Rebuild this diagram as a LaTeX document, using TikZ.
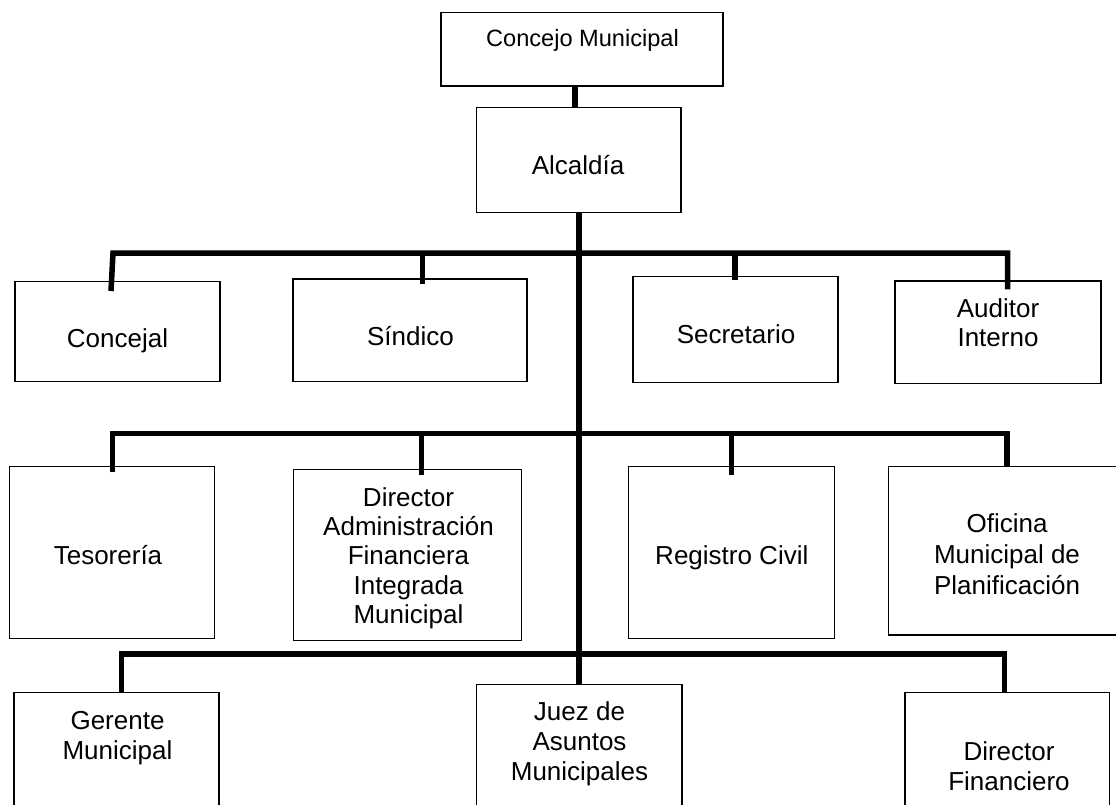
\documentclass[tikz,border=0pt]{standalone}
\usepackage{fontspec}
\setmainfont{Liberation Sans}
\begin{document}
\begin{tikzpicture}[x=1pt,y=-1pt,
  box/.style={draw=black, line width=1.3pt, inner sep=0pt, outer sep=0pt},
  conn/.style={draw=black, line width=5.5pt, line cap=butt, line join=miter},
  lbl/.style={anchor=north, inner sep=0pt, align=center, font=\fontsize{26}{#1}\selectfont},
  lbl/.default=29.7]
\useasboundingbox (0,0) rectangle (1116,804);
\fill[white] (0,0) rectangle (1116,804);
\clip (0,0) rectangle (1116,804);

% boxes
\node[box, minimum width=282pt,   minimum height=73.5pt]  (concejo)    at (582,49.25) {};
\node[box, minimum width=204.3pt, minimum height=105pt]   (alcaldia)   at (578.85,160.2) {};
\node[box, minimum width=205pt,   minimum height=100pt]   (concejal)   at (117.5,331.7) {};
\node[box, minimum width=234pt,   minimum height=102.7pt] (sindico)    at (410,330.35) {};
\node[box, minimum width=205pt,   minimum height=106pt]   (secretario) at (735.5,329.3) {};
\node[box, minimum width=206pt,   minimum height=102.3pt] (auditor)    at (998,332.15) {};
\node[box, minimum width=205pt,   minimum height=171.6pt] (tesoreria)  at (111.8,552.5) {};
\node[box, minimum width=228.1pt, minimum height=171.4pt] (director)   at (407.35,555) {};
\node[box, minimum width=205.6pt, minimum height=171.6pt] (registro)   at (731.5,552.5) {};
\node[box, minimum width=241.3pt, minimum height=168.3pt] (oficina)    at (1009.35,550.85) {};
\node[box, minimum width=205pt,   minimum height=137.7pt] (gerente)    at (116.5,761.15) {};
\node[box, minimum width=205.3pt, minimum height=145.7pt] (juez)       at (579.35,757.15) {};
\node[box, minimum width=204.5pt, minimum height=137.7pt] (financiero) at (1007.25,761.15) {};

% labels
\node[lbl, font=\fontsize{23.6}{28}\selectfont] (tconcejo) at (582.5,24.7) {\rule{0pt}{22pt}Concejo Municipal};
\node[lbl] (talcaldia)   at (578,152)     {\rule{0pt}{22pt}Alcaldía};
\node[lbl] (tconcejal)   at (117.5,325)   {\rule{0pt}{22pt}Concejal};
\node[lbl] (tsindico)    at (410.5,323.5) {\rule{0pt}{22pt}Síndico};
\node[lbl] (tsecretario) at (736,321.3)   {\rule{0pt}{22pt}Secretario};
\node[lbl=29.4] (tauditor) at (998,295.3) {\rule{0pt}{22pt}Auditor\\Interno};
\node[lbl] (ttesoreria)  at (108,542)     {\rule{0pt}{22pt}Tesorería};
\node[lbl=29.3] (tdirector) at (408.5,484) {\rule{0pt}{22pt}Director\\Administración\\Financiera\\Integrada\\Municipal};
\node[lbl] (tregistro)   at (731.8,542)   {\rule{0pt}{22pt}Registro Civil};
\node[lbl=30.7] (toficina) at (1007,510.7) {\rule{0pt}{22pt}Oficina\\Municipal de\\Planificación};
\node[lbl] (tgerente)    at (117.5,707.3) {\rule{0pt}{22pt}Gerente\\Municipal};
\node[lbl=30] (tjuez)    at (579.5,698)   {\rule{0pt}{22pt}Juez de\\Asuntos\\Municipales};
\node[lbl=30] (tfin)     at (1009,738)    {\rule{0pt}{22pt}Director\\Financiero};

% connectors
\draw[conn] ([xshift=-7pt]concejo.south) -- ([xshift=-7pt]concejo.south |- alcaldia.north);
\draw[conn] (alcaldia.south) -- (alcaldia.south |- juez.north);

\coordinate (r1L) at (113,253);
\coordinate (r1b) at (422.5,253);
\coordinate (r1c) at (735,253);
\coordinate (r1R) at (1007.5,253);
\draw[conn] ([xshift=-2pt,yshift=-9.3pt]concejal.north -| r1L) -- (r1L) -- (r1R) -- ([yshift=-8.3pt]auditor.north -| r1R);
\draw[conn] (r1b) -- ([yshift=-5.3pt]sindico.north -| r1b);
\draw[conn] (r1c) -- ([yshift=-3.7pt]secretario.north -| r1c);

\coordinate (r2L) at (112.7,433.3);
\coordinate (r2b) at (421.7,433.3);
\coordinate (r2c) at (731.7,433.3);
\coordinate (r2R) at (1007,433.3);
\draw[conn] ([yshift=-5.3pt]tesoreria.north -| r2L) -- (r2L) -- (r2R) -- (oficina.north -| r2R);
\draw[conn] (r2b) -- ([yshift=-5.7pt]director.north -| r2b);
\draw[conn] (r2c) -- ([yshift=-8.3pt]registro.north -| r2c);

\coordinate (r3L) at (121.7,654);
\coordinate (r3R) at (1004.3,654);
\draw[conn] (gerente.north -| r3L) -- (r3L) -- (r3R) -- (financiero.north -| r3R);
\end{tikzpicture}
\end{document}
